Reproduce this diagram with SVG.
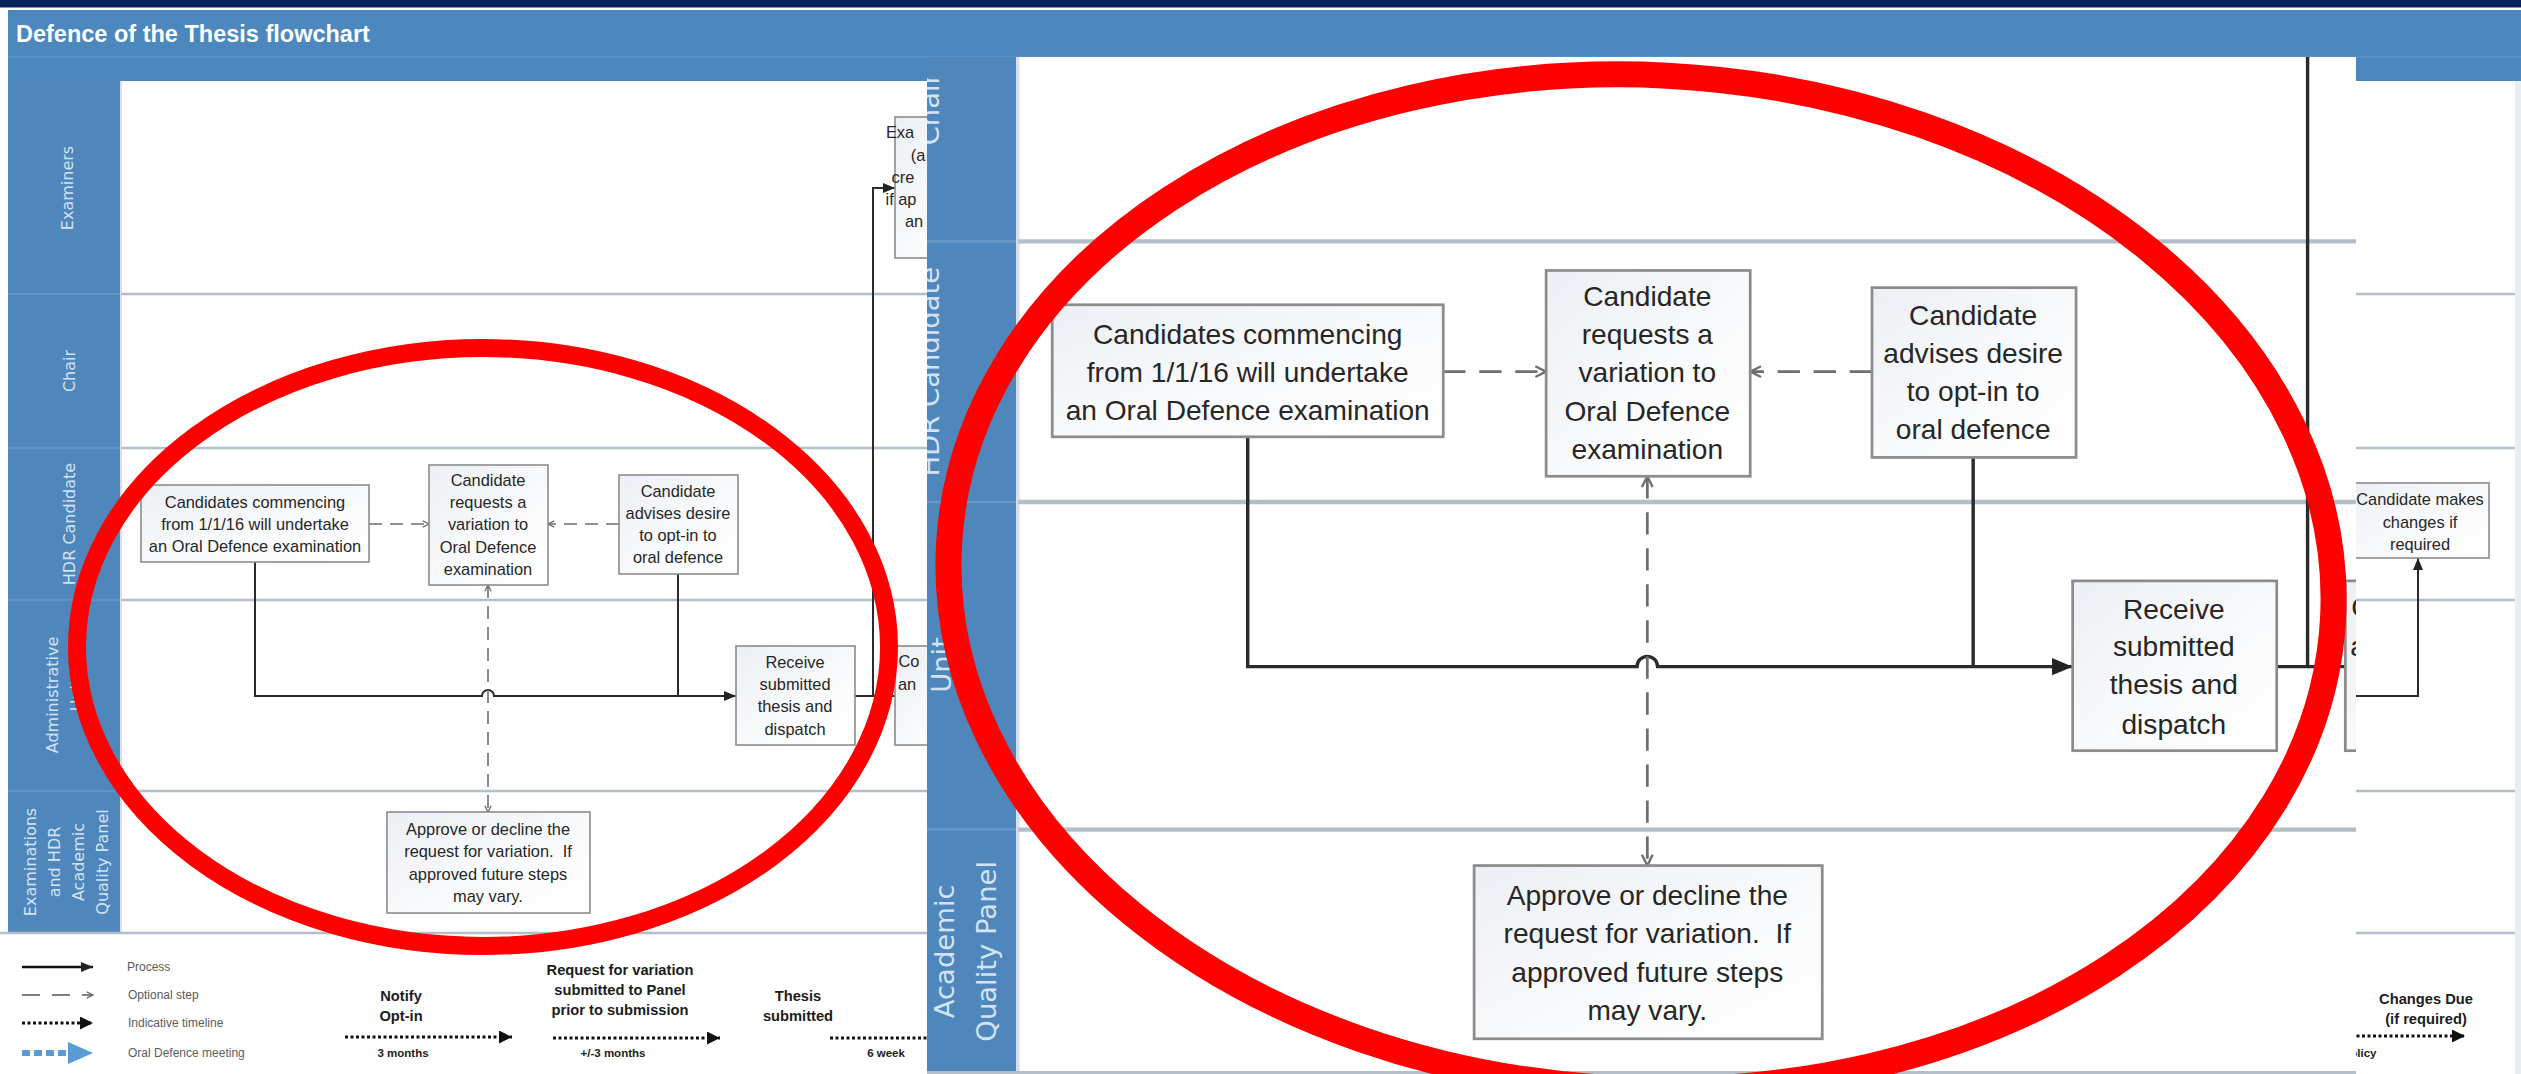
<svg xmlns="http://www.w3.org/2000/svg" width="2521" height="1074" viewBox="0 0 2521 1074">
<defs>
<style>
.lane-label{font-family:"DejaVu Sans",sans-serif;font-size:16px;fill:#d3e3f3;text-anchor:middle}
.node rect{fill:url(#boxFill);stroke:#8c8c8c;stroke-width:1.6}
.node text{font-family:"Liberation Sans",Arial,sans-serif;font-size:16.4px;fill:#262626;text-anchor:middle}
.frag{font-family:"Liberation Sans",Arial,sans-serif;font-size:16.4px;fill:#262626}
.lane-line{stroke:#b4bec9;stroke-width:2.5}
.col-sep{stroke:#6597c8;stroke-width:1.5}
.conn{fill:none;stroke:#2b2b2b;stroke-width:2}
.opt{fill:none;stroke:#6e6e6e;stroke-width:1.6;stroke-dasharray:13 8}
.legend-text{font-family:"Liberation Sans",Arial,sans-serif;font-size:12px;fill:#5c5c5c}
.tl-head{font-family:"Liberation Sans",Arial,sans-serif;font-size:14.7px;font-weight:bold;fill:#1c1c1c;text-anchor:middle}
.tl-sub{font-family:"Liberation Sans",Arial,sans-serif;font-size:11.5px;font-weight:bold;fill:#1c1c1c;text-anchor:middle}
.timeline{fill:none;stroke:#111;stroke-width:3;stroke-dasharray:3 2.5}
.highlight{fill:none;stroke:#fe0000}
</style>
<linearGradient id="boxFill" x1="0" y1="0" x2="1" y2="1">
<stop offset="0" stop-color="#eceff4"/><stop offset="0.6" stop-color="#fafbfc"/><stop offset="1" stop-color="#ffffff"/>
</linearGradient>
<marker id="arrowFilled" viewBox="0 0 12 10" refX="12" refY="5" markerWidth="12" markerHeight="10" markerUnits="userSpaceOnUse" orient="auto-start-reverse">
<path d="M0,0 L12,5 L0,10 z" fill="#222"/>
</marker>
<marker id="arrowOpen" viewBox="0 0 10 10" refX="9" refY="5" markerWidth="9" markerHeight="9" markerUnits="userSpaceOnUse" orient="auto-start-reverse">
<path d="M2,1.5 L9,5 L2,8.5" fill="none" stroke="#6e6e6e" stroke-width="1.5"/>
</marker>
<marker id="arrowTL" viewBox="0 0 13 13" refX="13" refY="6.5" markerWidth="13" markerHeight="13" markerUnits="userSpaceOnUse" orient="auto">
<path d="M0,0 L13,6.5 L0,13 z" fill="#111"/>
</marker>
<clipPath id="insetClip" clipPathUnits="userSpaceOnUse"><rect x="927" y="57" width="1429" height="1017"/></clipPath>
</defs>

<rect width="2521" height="1074" fill="#ffffff"/>
<g id="header">
<rect x="0" y="0" width="2521" height="7.5" fill="#07205c"/>
<rect x="8" y="10" width="2513" height="71" fill="#4c87bd"/>
<line x1="8" y1="57" x2="2521" y2="57" stroke="#5b93c7" stroke-width="1.5"/>
<text x="16" y="42" font-family="Liberation Sans, Arial, sans-serif" font-weight="bold" font-size="23.5" fill="#ffffff">Defence of the Thesis flowchart</text>
<rect x="2515" y="81" width="6" height="993" fill="#e6eef6"/>
</g>

<g id="swimlanes">
<g id="lanes">
<rect x="8" y="81" width="112" height="852" fill="#4f87bc"/>
<line class="col-sep" x1="8" y1="294" x2="120" y2="294"/>
<line class="col-sep" x1="8" y1="448" x2="120" y2="448"/>
<line class="col-sep" x1="8" y1="600" x2="120" y2="600"/>
<line class="col-sep" x1="8" y1="791" x2="120" y2="791"/>
<line x1="121" y1="81" x2="121" y2="933" stroke="#d5e0ea" stroke-width="2"/>
<line class="lane-line" x1="121" y1="294" x2="2515" y2="294"/>
<line class="lane-line" x1="121" y1="448" x2="2515" y2="448"/>
<line class="lane-line" x1="121" y1="600" x2="2515" y2="600"/>
<line class="lane-line" x1="121" y1="791" x2="2515" y2="791"/>
<line class="lane-line" x1="0" y1="933" x2="2515" y2="933"/>
<text class="lane-label" transform="translate(0,188) rotate(-90)"><tspan x="0" y="73">Examiners</tspan></text>
<text class="lane-label" transform="translate(0,371) rotate(-90)"><tspan x="0" y="75">Chair</tspan></text>
<text class="lane-label" transform="translate(0,524) rotate(-90)"><tspan x="0" y="75">HDR Candidate</tspan></text>
<text class="lane-label" transform="translate(0,695) rotate(-90)"><tspan x="0" y="58">Administrative</tspan><tspan x="0" y="82">Unit</tspan></text>
<text class="lane-label" transform="translate(0,862) rotate(-90)"><tspan x="0" y="36">Examinations</tspan><tspan x="0" y="60">and HDR</tspan><tspan x="0" y="84">Academic</tspan><tspan x="0" y="108">Quality Panel</tspan></text>
</g>

<g id="connectors">
<path class="conn" d="M255,562 V696 H482 A6,6 0 0 1 494,696 H736" marker-end="url(#arrowFilled)"/>
<path class="conn" d="M678,574 V696"/>
<path class="opt" d="M369,524 H429" marker-end="url(#arrowOpen)"/>
<path class="opt" d="M619,524 H548" marker-end="url(#arrowOpen)"/>
<path class="opt" d="M488,585 V812" marker-start="url(#arrowOpen)" marker-end="url(#arrowOpen)"/>
<path class="conn" d="M855,696 H873 V188 H895" marker-end="url(#arrowFilled)"/>
<path class="conn" d="M873,696 H895"/>
<path class="conn" d="M2340,696 H2418 V558" marker-end="url(#arrowFilled)"/>
</g>

<g id="nodes">
<g id="node-commencing" class="node">
<rect x="141" y="485" width="228" height="77"/>
<text><tspan x="255" y="508">Candidates commencing</tspan><tspan x="255" y="530">from 1/1/16 will undertake</tspan><tspan x="255" y="552">an Oral Defence examination</tspan></text>
</g>
<g id="node-request-variation" class="node">
<rect x="429" y="465" width="119" height="120"/>
<text><tspan x="488" y="486">Candidate</tspan><tspan x="488" y="508">requests a</tspan><tspan x="488" y="530">variation to</tspan><tspan x="488" y="553">Oral Defence</tspan><tspan x="488" y="575">examination</tspan></text>
</g>
<g id="node-opt-in" class="node">
<rect x="619" y="475" width="119" height="99"/>
<text><tspan x="678" y="497">Candidate</tspan><tspan x="678" y="519">advises desire</tspan><tspan x="678" y="541">to opt-in to</tspan><tspan x="678" y="563">oral defence</tspan></text>
</g>
<g id="node-receive" class="node">
<rect x="736" y="646" width="119" height="99"/>
<text><tspan x="795" y="668">Receive</tspan><tspan x="795" y="690">submitted</tspan><tspan x="795" y="712">thesis and</tspan><tspan x="795" y="735">dispatch</tspan></text>
</g>
<g id="node-approve" class="node">
<rect x="387" y="812" width="203" height="101"/>
<text><tspan x="488" y="835">Approve or decline the</tspan><tspan x="488" y="857">request for variation.&#160; If</tspan><tspan x="488" y="880">approved future steps</tspan><tspan x="488" y="902">may vary.</tspan></text>
</g>
<g id="node-examiners" class="node">
<rect x="895" y="117" width="80" height="141"/>
<text class="frag" text-anchor="start"><tspan x="900" y="138">Exa</tspan><tspan x="918" y="161">(a</tspan><tspan x="903" y="183">cre</tspan><tspan x="901" y="205">if ap</tspan><tspan x="914" y="227">an</tspan></text>
</g>
<g id="node-c" class="node">
<rect x="895" y="646" width="80" height="99"/>
<text class="frag" text-anchor="start"><tspan x="909" y="667">Co</tspan><tspan x="907" y="690">an</tspan></text>
</g>
<g id="node-changes" class="node">
<rect x="2351" y="483" width="138" height="75"/>
<text><tspan x="2420" y="505">Candidate makes</tspan><tspan x="2420" y="528">changes if</tspan><tspan x="2420" y="550">required</tspan></text>
</g>
</g>
</g>

<g id="legend">
<line x1="22" y1="967" x2="93" y2="967" stroke="#111" stroke-width="2.4" marker-end="url(#arrowFilled)"/>
<text class="legend-text" x="127" y="971">Process</text>
<path d="M22,995 H93" fill="none" stroke="#555" stroke-width="1.5" stroke-dasharray="18 12" marker-end="url(#arrowOpen)"/>
<text class="legend-text" x="128" y="999">Optional step</text>
<path class="timeline" d="M22,1023 H93" marker-end="url(#arrowTL)"/>
<text class="legend-text" x="128" y="1027">Indicative timeline</text>
<path d="M22,1053 H68" fill="none" stroke="#5b9bd5" stroke-width="6" stroke-dasharray="8 4"/>
<path d="M68,1042 L93,1053 L68,1064 z" fill="#5b9bd5"/>
<text class="legend-text" x="128" y="1057">Oral Defence meeting</text>
</g>

<g id="timeline">
<text class="tl-head"><tspan x="401" y="1001">Notify</tspan><tspan x="401" y="1021">Opt-in</tspan></text>
<path class="timeline" d="M345,1037 H512" marker-end="url(#arrowTL)"/>
<text class="tl-sub" x="403" y="1057">3 months</text>
<text class="tl-head"><tspan x="620" y="975">Request for variation</tspan><tspan x="620" y="995">submitted to Panel</tspan><tspan x="620" y="1015">prior to submission</tspan></text>
<path class="timeline" d="M553,1038 H720" marker-end="url(#arrowTL)"/>
<text class="tl-sub" x="613" y="1057">+/-3 months</text>
<text class="tl-head"><tspan x="798" y="1001">Thesis</tspan><tspan x="798" y="1021">submitted</tspan></text>
<path class="timeline" d="M830,1038 H940"/>
<text class="tl-sub" x="886" y="1057" text-anchor="start">6 week</text>
<text class="tl-head"><tspan x="2426" y="1004">Changes Due</tspan><tspan x="2426" y="1024">(if required)</tspan></text>
<path class="timeline" d="M2340,1036 H2465" marker-end="url(#arrowTL)"/>
<text class="tl-sub" x="2356" y="1057" text-anchor="start">r policy</text>
</g>

<g id="inset" clip-path="url(#insetClip)">
<rect x="927" y="57" width="1429" height="1017" fill="#ffffff"/>
<use href="#swimlanes" transform="translate(810.4,-527) scale(1.715)"/>
</g>

<g id="highlights">
<ellipse class="highlight" cx="483" cy="647" rx="406" ry="299" stroke-width="18"/>
<ellipse class="highlight" cx="1641" cy="582" rx="693" ry="507" stroke-width="26" transform="rotate(3 1641 582)"/>
</g>
</svg>
